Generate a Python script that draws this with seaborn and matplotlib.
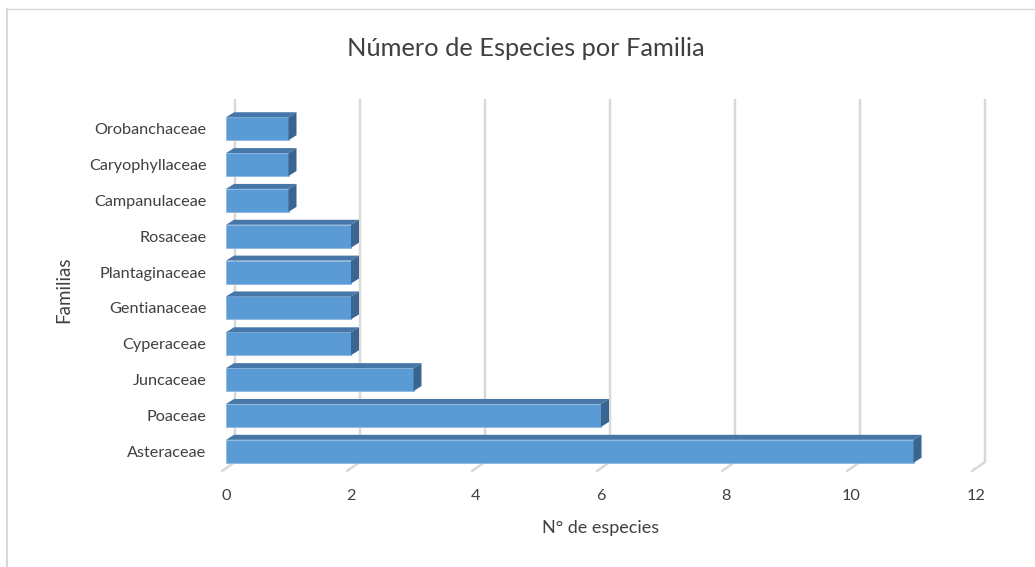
"""
Bar chart: number of species per plant family (3D-style horizontal bars).
"""

import numpy as np
import pandas as pd
import matplotlib
matplotlib.use("Agg")
import matplotlib.pyplot as plt
from matplotlib.patches import Polygon
from matplotlib.lines import Line2D
import seaborn as sns

# Data
families = ['Orobanchaceae', 'Caryophyllaceae', 'Campanulaceae', 'Rosaceae',
            'Plantaginaceae', 'Gentianaceae', 'Cyperaceae', 'Juncaceae',
            'Poaceae', 'Asteraceae']
counts = [1, 1, 1, 2, 2, 2, 2, 3, 6, 11]
x_ticks = [0, 2, 4, 6, 8, 10, 12]

title = 'Número de Especies por Familia'
x_label = 'N° de especies'
y_label = 'Familias'

# Colours
front_color = '#5B9BD5'
top_color = '#4677A8'
side_color = '#3A6591'
grid_color = '#D9D9D9'
text_color = '#404040'

sns.set_theme(style='white')
plt.rcParams['font.family'] = ['Lato', 'DejaVu Sans']

df = pd.DataFrame({'family': families, 'count': counts})

W, H = 1035, 567
fig = plt.figure(figsize=(W / 100, H / 100), dpi=100)
ax = fig.add_axes([226 / W, 1 - 471 / H, (976 - 226) / W, (471 - 109) / H])

bar_h = 0.64
sns.barplot(data=df, x='count', y='family', orient='h', color=front_color,
            saturation=1, width=bar_h, ax=ax, zorder=3,
            edgecolor='#8DB8E2', linewidth=0.6)

ax.set_xlim(0, 12)
ax.set_ylim(9.55, -0.55)
ax.set_xticks(x_ticks)
ax.tick_params(axis='both', length=0, colors=text_color, labelsize=11.7)
ax.tick_params(axis='x', pad=13)
ax.tick_params(axis='y', pad=14)
for s in ax.spines.values():
    s.set_visible(False)
ax.set_xlabel(x_label, color=text_color, fontsize=13, labelpad=12)
ax.set_ylabel(y_label, color=text_color, fontsize=13.5, labelpad=12)


def shift(x, y, dx, dy):
    """Move a data point by (dx, dy) pixels, return data coords."""
    px = ax.transData.transform((x, y))
    return ax.transData.inverted().transform((px[0] + dx, px[1] + dy))


# Gridlines on a back wall, with a short diagonal down to the front floor edge
y_front = 9.55
back_top_y = ax.transData.inverted().transform((0, H - 100))[1]
for v in x_ticks:
    front = shift(v, y_front, -4, 0)
    back = shift(v, y_front, 9, 9)
    ax.add_line(Line2D([front[0], back[0], back[0]],
                       [front[1], back[1], back_top_y],
                       color=grid_color, lw=1.8, zorder=1, clip_on=False))

# 3D faces of each bar
d_dx, d_dy = 8, 5
for i, c in enumerate(counts):
    top = i - bar_h / 2
    bot = i + bar_h / 2
    top_face = [(0, top), (c, top), tuple(shift(c, top, d_dx, d_dy)),
                tuple(shift(0, top, d_dx, d_dy))]
    side_face = [(c, top), (c, bot), tuple(shift(c, bot, d_dx, d_dy)),
                 tuple(shift(c, top, d_dx, d_dy))]
    ax.add_patch(Polygon(top_face, closed=True, facecolor=top_color,
                         edgecolor='none', zorder=3, clip_on=False))
    ax.add_patch(Polygon(side_face, closed=True, facecolor=side_color,
                         edgecolor='none', zorder=3, clip_on=False))

fig.text(526 / W, 1 - 48 / H, title, ha='center', va='center',
         fontsize=18.3, color=text_color)

# Chart area border (left and top edges visible)
fig.add_artist(Line2D([7 / W, 7 / W], [0, 1 - 9 / H], color='#D9D9D9', lw=1.5))
fig.add_artist(Line2D([7 / W, 1], [1 - 9 / H, 1 - 9 / H], color='#D9D9D9', lw=1.0))

plt.savefig('out.png', dpi=100)
plt.close()
